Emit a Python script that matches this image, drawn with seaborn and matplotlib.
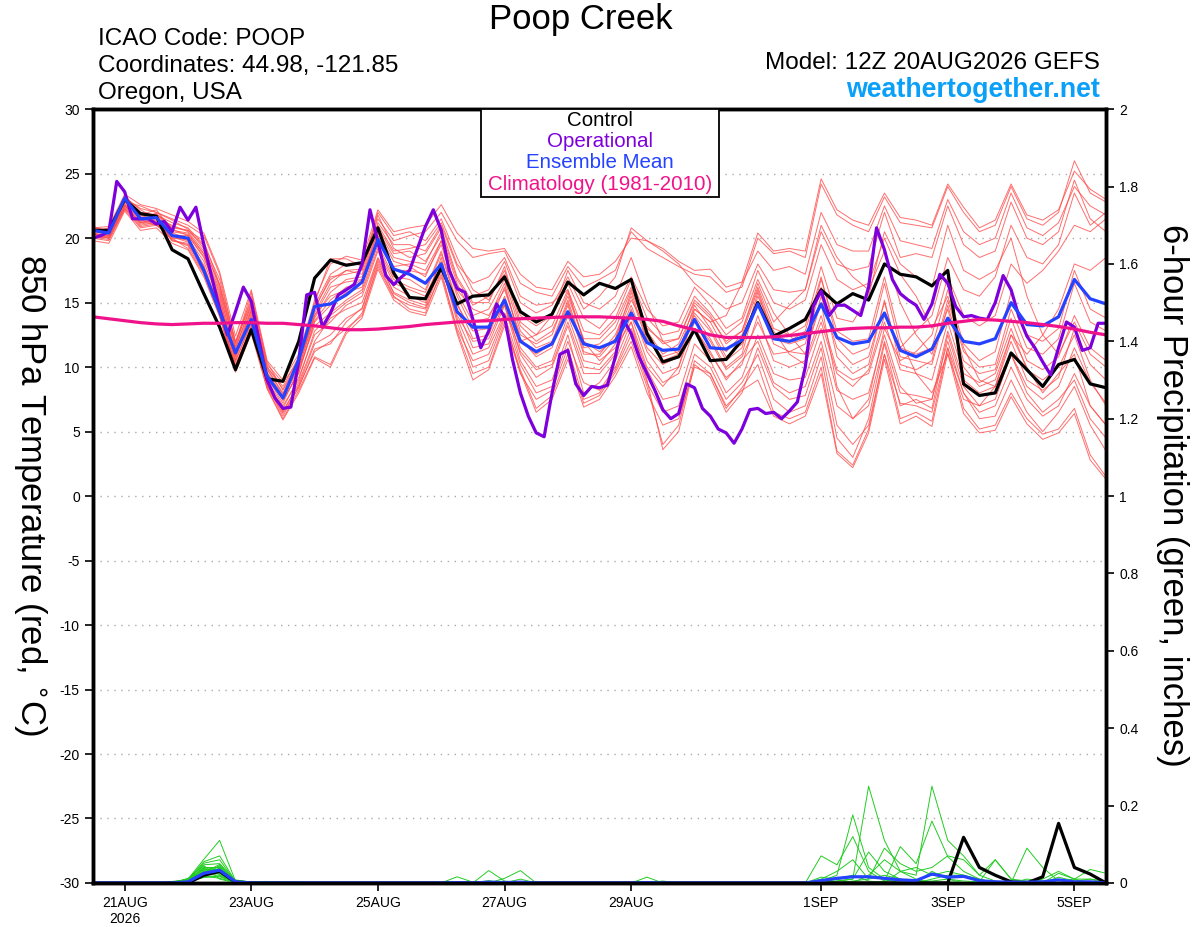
import numpy as np
import pandas as pd
import seaborn as sns
import matplotlib
matplotlib.use("Agg")
import matplotlib.pyplot as plt
from matplotlib.patches import Rectangle

# ---- данные: 6-часовой шаг, 12Z 20AUG2026 .. 12Z 05SEP2026 ----
run_start = "2026-08-20 12:00"

control_t = [20.6, 20.6, 23.0, 21.9, 21.7, 19.1, 18.4, 15.7, 13.1, 9.8,
             12.9, 9.1, 8.9, 12.0, 16.9, 18.3, 17.9, 18.1, 20.8, 17.3,
             15.4, 15.3, 17.7, 14.9, 15.5, 15.6, 17.0, 14.3, 13.5, 14.1,
             16.6, 15.6, 16.5, 16.1, 16.8, 12.6, 10.4, 10.8, 12.9, 10.5,
             10.6, 12.1, 15.0, 12.4, 13.0, 13.7, 16.0, 14.9, 15.7, 15.2,
             18.0, 17.2, 17.0, 16.3, 17.5, 8.7, 7.8, 8.0, 11.1, 9.8,
             8.5, 10.2, 10.6, 8.7, 8.4]

mean_t = [20.6, 20.4, 23.1, 21.5, 21.6, 20.2, 20.0, 17.5, 14.3, 11.1,
          13.7, 9.3, 7.6, 10.6, 14.7, 14.9, 15.6, 16.6, 19.9, 17.6,
          17.2, 16.5, 18.0, 14.3, 13.1, 13.1, 15.2, 12.0, 11.2, 11.8,
          14.3, 11.8, 11.5, 12.0, 14.2, 11.9, 11.3, 11.4, 13.7, 11.5,
          11.4, 12.1, 14.9, 12.2, 12.0, 12.4, 14.9, 12.3, 11.8, 12.0,
          14.2, 11.3, 10.8, 11.4, 13.8, 12.0, 11.8, 12.2, 15.0, 13.3,
          13.2, 13.9, 16.8, 15.3, 14.9]

clim_t = [13.9, 13.75, 13.6, 13.45, 13.35, 13.3, 13.35, 13.4, 13.4, 13.45,
          13.45, 13.4, 13.4, 13.3, 13.2, 13.05, 12.9, 12.9, 12.95, 13.05,
          13.15, 13.3, 13.4, 13.5, 13.55, 13.6, 13.7, 13.75, 13.8, 13.85,
          13.9, 13.9, 13.9, 13.85, 13.8, 13.7, 13.55, 13.2, 12.9, 12.5,
          12.3, 12.3, 12.3, 12.35, 12.45, 12.6, 12.75, 12.9, 13.0, 13.05,
          13.05, 13.1, 13.1, 13.2, 13.4, 13.55, 13.7, 13.65, 13.55, 13.45,
          13.3, 13.15, 12.95, 12.7, 12.5]

# оперативный прогон - 3-часовой шаг
oper_t = [20.0, 20.2, 20.5, 24.4, 23.6, 21.5, 21.5, 21.5, 21.1, 21.3,
          20.5, 22.4, 21.4, 22.4, 19.5, 17.0, 14.5, 12.5, 14.3, 16.2,
          15.1, 12.0, 9.0, 7.6, 6.8, 6.9, 10.5, 15.6, 15.8, 13.1,
          14.2, 15.6, 16.0, 16.4, 18.0, 22.2, 19.7, 17.1, 16.4, 17.0,
          17.5, 19.2, 20.9,
          22.2, 20.6, 17.5, 16.1, 15.8, 13.7, 11.5, 12.8, 14.9, 13.9,
          10.6, 8.0, 6.2, 4.9, 4.6, 8.0, 11.0, 11.3, 8.7, 7.8,
          8.5, 8.4, 8.6, 10.8, 13.7, 12.6, 10.8, 9.5, 8.2, 6.7,
          6.0, 6.4, 8.7, 8.4, 6.8, 6.2, 5.2, 4.9, 4.1, 5.2,
          6.7, 6.8,
          6.4, 6.5, 6.0, 6.6, 7.3, 10.0, 14.7, 15.9, 14.0, 14.8,
          14.8, 14.4, 14.0, 16.2, 20.8, 19.1, 16.8, 15.7, 15.2, 14.8,
          13.7, 14.9, 17.2, 16.5, 14.7, 13.9, 14.0, 13.8, 13.7, 15.0,
          17.1, 16.0, 13.9, 12.4, 11.5, 10.4, 9.4, 11.5, 13.5, 13.1,
          11.3, 11.5, 13.4, 13.4]

# члены ансамбля (красные)
member_t = [
    [20.8, 20.6, 23.3, 22.0, 21.8, 21.2, 20.8, 19.5, 16.8, 12.0, 15.2, 10.0, 8.5, 10.8, 14.8, 17.2, 18.0, 18.0, 21.5, 19.8, 20.2, 20.5,
     22.0, 19.8, 18.5, 18.8, 19.0, 16.5, 15.8, 15.5, 17.8, 16.2, 16.8, 17.5, 20.5, 19.2, 18.5, 17.8, 17.2, 17.0, 15.8, 16.2,
     20.0, 18.8, 19.0, 18.5, 24.2, 21.8, 21.0, 20.5, 23.2, 21.2, 21.0, 20.8, 24.0, 22.0, 20.5, 21.0, 24.0, 21.5, 21.0, 22.0, 26.0, 23.5, 22.8],
    [20.2, 20.0, 22.4, 21.0, 21.2, 19.8, 19.6, 17.8, 14.2, 10.2, 13.0, 8.6, 6.2, 8.5, 11.2, 12.0, 13.0, 14.0, 18.0, 15.5, 14.5, 14.2,
     17.5, 12.8, 9.5, 10.0, 13.5, 9.8, 6.8, 7.8, 11.0, 7.2, 7.8, 9.6, 12.0, 8.5, 4.0, 5.5, 10.5, 9.5, 6.8, 8.4,
     10.2, 6.5, 6.0, 6.5, 10.0, 3.5, 2.4, 5.2, 11.0, 6.0, 6.5, 5.8, 11.5, 6.8, 5.2, 5.5, 8.0, 6.0, 4.8, 5.2, 6.8, 3.2, 1.5],
    [20.5, 20.8, 22.8, 22.5, 22.0, 21.5, 21.0, 20.2, 17.2, 11.8, 15.8, 10.2, 8.8, 10.5, 15.0, 18.4, 18.4, 17.8, 22.0, 20.2, 20.5, 19.8,
     21.5, 18.5, 16.0, 15.2, 17.5, 14.0, 13.2, 14.0, 16.5, 13.8, 13.0, 14.5, 17.0, 14.5, 13.2, 13.5, 16.2, 14.8, 13.0, 13.8,
     17.5, 15.0, 14.5, 15.2, 19.5, 16.8, 16.0, 16.5, 20.0, 17.2, 15.5, 13.0, 15.5, 11.5, 9.0, 8.5, 11.0, 8.0, 6.5, 7.5, 9.0, 6.0, 4.5],
    [20.0, 19.8, 22.2, 20.8, 21.0, 20.0, 19.2, 17.2, 14.0, 9.8, 12.8, 8.4, 6.0, 8.2, 10.8, 10.2, 12.8, 14.2, 17.8, 15.4, 14.8, 14.5,
     17.2, 13.0, 10.5, 11.0, 14.0, 10.2, 8.0, 8.5, 12.0, 8.8, 8.2, 10.0, 13.0, 9.8, 7.5, 7.8, 11.8, 10.5, 8.0, 9.2,
     12.5, 9.5, 9.0, 9.2, 13.0, 8.2, 7.5, 8.0, 12.5, 8.5, 7.2, 7.5, 12.0, 8.0, 6.5, 7.0, 10.0, 7.5, 6.2, 7.0, 9.5, 7.0, 5.5],
    [20.9, 20.5, 23.0, 21.8, 22.2, 20.6, 20.4, 18.8, 15.6, 11.2, 14.6, 9.6, 7.8, 10.0, 13.8, 15.8, 16.8, 17.0, 20.8, 18.8, 19.0, 18.2,
     20.2, 16.5, 14.0, 14.5, 16.8, 12.8, 11.5, 12.0, 15.2, 11.5, 11.8, 13.0, 16.0, 12.8, 11.0, 11.8, 14.5, 13.5, 11.2, 12.5,
     16.0, 12.5, 12.0, 12.8, 17.0, 12.2, 11.0, 11.5, 16.5, 11.5, 11.0, 11.5, 16.0, 11.8, 10.5, 11.2, 15.8, 12.5, 12.0, 13.0, 17.5, 14.5, 13.8],
    [20.4, 20.2, 22.6, 21.2, 21.4, 20.4, 20.0, 18.2, 15.0, 10.8, 14.0, 9.2, 7.2, 9.8, 13.2, 14.2, 15.2, 16.0, 19.5, 17.0, 16.8, 16.0,
     19.0, 15.0, 12.2, 12.5, 15.5, 11.5, 10.0, 10.5, 14.0, 10.5, 10.2, 11.8, 14.8, 11.5, 10.2, 10.8, 14.0, 12.2, 10.0, 11.0,
     15.5, 12.8, 11.0, 10.2, 13.5, 9.5, 8.5, 9.8, 14.0, 11.5, 12.8, 14.0, 18.5, 16.0, 15.5, 17.0, 21.0, 18.5, 18.0, 19.5, 23.5, 21.0, 22.0],
    [20.3, 20.1, 22.5, 21.5, 21.6, 19.8, 19.5, 17.6, 14.8, 10.5, 13.5, 8.8, 6.8, 9.2, 12.5, 13.5, 14.8, 15.5, 19.0, 16.5, 16.0, 15.5,
     18.2, 14.5, 11.5, 11.8, 14.8, 10.5, 8.5, 9.0, 12.5, 8.0, 8.8, 10.5, 13.5, 9.0, 3.6, 5.0, 10.2, 9.2, 6.5, 8.0,
     11.5, 8.5, 7.5, 7.8, 11.5, 5.5, 4.0, 5.5, 11.0, 7.2, 7.0, 6.5, 11.5, 8.0, 6.0, 6.2, 9.0, 6.5, 5.0, 6.5, 8.5, 5.5, 3.5],
    [20.7, 20.7, 23.2, 22.2, 21.5, 21.0, 20.5, 19.0, 16.0, 11.5, 14.8, 9.8, 8.0, 10.2, 14.2, 16.5, 17.5, 17.2, 21.2, 19.5, 19.5, 19.0,
     21.0, 17.8, 15.5, 16.0, 18.2, 15.0, 14.2, 14.8, 17.0, 14.5, 15.5, 17.0, 20.8, 19.8, 19.0, 18.0, 16.5, 15.5, 14.5, 15.0,
     18.0, 16.0, 15.8, 16.0, 20.5, 18.0, 17.5, 17.8, 22.0, 18.5, 18.8, 18.5, 22.5, 19.5, 18.5, 19.0, 22.8, 20.0, 19.5, 20.5, 24.5, 21.5, 20.5],
    [20.1, 19.9, 22.3, 21.3, 21.0, 20.2, 19.8, 17.5, 14.5, 10.0, 13.2, 8.9, 6.5, 8.8, 12.0, 13.8, 14.5, 15.0, 18.5, 16.2, 15.5, 15.0,
     18.5, 14.0, 12.0, 12.2, 15.0, 11.0, 9.2, 10.0, 13.2, 9.5, 9.5, 11.0, 14.0, 10.5, 8.8, 9.5, 13.0, 11.0, 9.2, 10.2,
     14.0, 10.5, 10.0, 10.5, 14.0, 9.8, 9.0, 9.5, 13.5, 9.8, 9.5, 9.0, 13.5, 9.5, 8.8, 9.5, 13.0, 9.8, 9.0, 10.0, 12.5, 9.0, 7.0],
    [20.6, 20.3, 22.9, 21.7, 21.9, 20.8, 20.6, 19.8, 16.4, 11.6, 15.5, 10.4, 8.2, 10.4, 14.5, 17.0, 17.2, 17.5, 21.8, 19.2, 18.5, 18.8,
     20.8, 17.0, 15.0, 15.0, 17.8, 13.5, 12.5, 13.2, 16.0, 12.8, 12.5, 13.8, 16.8, 13.8, 12.5, 12.8, 15.5, 14.2, 12.5, 13.5,
     16.8, 14.2, 12.5, 11.0, 15.0, 8.5, 6.0, 7.5, 13.0, 10.5, 11.2, 12.5, 17.0, 14.0, 13.2, 14.0, 18.0, 16.5, 17.5, 19.0, 21.0, 20.5, 21.5],
    [20.5, 20.5, 22.7, 21.4, 21.2, 20.2, 20.2, 18.5, 15.4, 10.6, 14.2, 9.4, 7.5, 9.5, 13.5, 14.8, 15.8, 16.2, 20.2, 17.5, 17.5, 17.2,
     19.5, 15.5, 13.0, 13.2, 16.2, 12.2, 10.8, 11.5, 14.8, 11.0, 11.0, 12.5, 15.5, 12.0, 10.8, 11.2, 14.8, 13.0, 10.8, 11.8,
     15.0, 11.8, 11.2, 11.8, 16.2, 10.8, 9.5, 10.2, 15.2, 10.2, 9.8, 10.5, 15.2, 11.2, 10.0, 10.2, 14.5, 11.5, 11.0, 12.2, 16.5, 13.5, 12.8],
    [20.8, 20.9, 23.4, 22.6, 22.3, 21.8, 21.3, 20.4, 17.4, 12.4, 16.0, 10.5, 9.0, 11.0, 15.2, 18.0, 18.6, 18.3, 22.2, 20.5, 20.8, 21.0,
     22.6, 20.4, 19.2, 19.0, 19.2, 17.2, 16.2, 16.0, 18.2, 17.0, 17.2, 18.2, 20.0, 19.8, 19.2, 18.2, 17.5, 17.6, 16.2, 16.6,
     20.4, 19.0, 19.2, 19.0, 24.6, 22.2, 21.4, 21.0, 23.5, 21.6, 21.4, 21.0, 24.2, 22.4, 20.8, 21.4, 24.2, 21.8, 21.4, 22.2, 25.2, 23.8, 23.0],
    [19.8, 19.6, 22.1, 20.6, 20.8, 19.6, 19.1, 17.0, 13.9, 9.6, 12.6, 8.3, 5.9, 8.0, 10.7, 10.0, 12.6, 13.8, 17.6, 15.2, 14.3, 14.0,
     17.0, 12.6, 9.0, 9.8, 13.2, 9.6, 6.5, 7.5, 10.6, 6.9, 7.5, 9.3, 11.6, 8.0, 5.5, 6.0, 10.0, 9.5, 7.0, 8.2,
     9.0, 6.2, 5.6, 6.2, 9.5, 3.3, 2.2, 4.9, 10.6, 5.6, 6.2, 5.4, 11.1, 6.4, 4.9, 5.1, 7.7, 5.6, 4.4, 4.9, 6.4, 2.8, 1.3],
    [20.2, 20.4, 22.9, 21.9, 21.7, 20.5, 20.3, 18.8, 15.8, 11.0, 14.4, 9.5, 7.4, 9.6, 13.6, 15.2, 16.2, 16.5, 20.0, 17.8, 18.0, 17.5,
     19.8, 16.0, 14.5, 14.0, 16.0, 12.5, 11.8, 12.5, 15.8, 12.0, 11.2, 12.2, 15.2, 13.0, 12.0, 12.2, 15.0, 13.8, 12.0, 12.8,
     16.5, 13.5, 14.8, 16.0, 21.0, 18.5, 17.0, 16.0, 19.0, 15.0, 12.5, 11.0, 14.5, 10.0, 8.5, 9.0, 12.5, 10.0, 8.0, 9.5, 11.0, 7.0, 5.5],
    [20.4, 20.0, 22.6, 21.1, 21.3, 20.0, 19.9, 17.9, 14.6, 10.4, 13.4, 9.0, 7.0, 9.0, 12.8, 14.0, 15.0, 15.8, 19.2, 16.8, 16.2, 15.8,
     18.8, 14.8, 12.8, 13.0, 14.8, 11.2, 9.8, 10.2, 13.5, 10.0, 9.8, 11.2, 14.5, 11.2, 9.5, 10.0, 13.5, 12.0, 9.8, 10.8,
     13.5, 11.0, 11.2, 11.0, 15.5, 11.5, 10.2, 10.8, 15.0, 10.8, 10.5, 10.2, 14.8, 10.5, 9.5, 9.8, 13.8, 10.5, 9.8, 10.8, 14.0, 11.5, 10.5],
    [20.6, 20.6, 23.1, 22.3, 22.0, 21.4, 20.7, 19.2, 16.4, 11.9, 15.0, 10.0, 8.3, 10.6, 14.6, 16.8, 17.5, 17.6, 21.0, 19.0, 19.2, 19.5,
     21.2, 18.0, 16.5, 17.0, 18.5, 15.5, 14.8, 15.0, 16.0, 12.0, 10.5, 11.5, 13.5, 10.0, 8.5, 10.0, 14.5, 13.5, 14.0, 16.5,
     19.0, 17.5, 17.8, 17.2, 22.0, 19.5, 19.0, 19.0, 22.5, 19.8, 19.5, 19.2, 23.0, 20.5, 19.5, 20.0, 23.5, 20.8, 20.2, 21.2, 24.0, 22.5, 21.8],
    [20.3, 20.2, 22.5, 21.2, 21.5, 20.1, 19.7, 17.4, 14.2, 10.1, 13.1, 8.7, 6.6, 8.6, 11.8, 12.5, 13.8, 14.5, 18.2, 15.8, 15.2, 14.8,
     18.0, 13.5, 10.0, 10.5, 13.8, 9.5, 7.5, 8.2, 11.5, 7.5, 8.0, 9.8, 12.5, 8.8, 6.5, 7.0, 11.0, 10.0, 7.5, 8.8,
     11.0, 7.5, 6.5, 7.0, 10.8, 4.5, 3.0, 6.0, 11.8, 7.0, 7.5, 6.8, 12.5, 8.5, 7.0, 7.5, 11.0, 8.5, 7.5, 8.5, 11.5, 8.8, 7.2],
    [20.7, 20.5, 23.0, 21.6, 21.9, 20.9, 20.6, 19.4, 16.2, 11.4, 14.9, 9.9, 7.9, 10.3, 14.0, 16.2, 16.6, 16.8, 20.6, 18.5, 18.2, 18.0,
     20.5, 16.8, 14.8, 15.5, 17.2, 13.2, 12.0, 12.8, 15.5, 12.2, 12.2, 13.5, 16.2, 13.2, 11.8, 12.2, 15.2, 14.0, 11.8, 12.8,
     16.2, 13.0, 12.5, 13.2, 17.8, 13.8, 13.5, 15.5, 20.5, 18.0, 17.0, 16.2, 21.0, 17.5, 16.8, 17.5, 20.0, 15.5, 12.5, 11.0, 13.5, 11.0, 10.0],
    [20.0, 20.1, 22.3, 20.9, 21.1, 19.9, 19.4, 17.3, 14.1, 9.9, 12.9, 8.5, 6.4, 8.4, 11.4, 11.8, 13.5, 14.6, 18.4, 15.7, 15.0, 14.6,
     17.8, 13.8, 11.0, 11.5, 14.2, 12.0, 12.5, 14.0, 17.5, 15.0, 14.5, 15.5, 18.5, 15.0, 12.0, 11.0, 13.0, 11.2, 9.0, 10.5,
     12.0, 8.8, 8.0, 8.5, 12.0, 7.0, 6.0, 7.0, 12.0, 8.0, 7.8, 7.5, 12.8, 9.0, 8.0, 8.5, 12.0, 9.0, 8.2, 9.2, 13.0, 10.2, 9.0],
    [20.5, 20.3, 22.8, 21.8, 21.8, 20.7, 20.2, 18.6, 15.2, 10.9, 14.4, 9.5, 7.6, 9.9, 14.0, 15.5, 16.0, 16.8, 20.4, 18.2, 17.8, 17.0,
     19.8, 15.8, 13.5, 13.8, 16.5, 12.0, 11.0, 11.8, 15.0, 11.2, 10.8, 12.2, 15.8, 12.2, 10.5, 11.0, 14.2, 12.8, 10.5, 11.5,
     15.8, 12.2, 11.8, 12.2, 16.8, 12.8, 12.0, 12.2, 17.0, 12.2, 9.5, 8.0, 11.0, 7.5, 7.0, 8.5, 12.5, 11.0, 12.5, 14.5, 18.0, 17.5, 18.5],
]

# осадки за 6 часов (дюймы)
control_p = [0, 0, 0, 0, 0, 0, 0, 0.02, 0.03, 0.002,
             0, 0, 0, 0, 0, 0, 0, 0, 0, 0,
             0, 0, 0, 0, 0, 0, 0, 0, 0, 0,
             0, 0, 0, 0, 0, 0, 0, 0, 0, 0,
             0, 0, 0, 0, 0, 0, 0, 0, 0, 0,
             0, 0, 0, 0, 0, 0.118, 0.04, 0.02, 0.003, 0,
             0.016, 0.154, 0.04, 0.023, 0]

mean_p = [0, 0, 0, 0, 0, 0, 0.003, 0.025, 0.033, 0.003,
          0, 0, 0, 0, 0, 0, 0, 0, 0, 0,
          0, 0, 0, 0.001, 0, 0.002, 0.001, 0.002, 0, 0,
          0, 0, 0, 0, 0, 0.001, 0, 0, 0, 0,
          0, 0, 0, 0, 0, 0, 0.006, 0.012, 0.016, 0.016,
          0.012, 0.008, 0.006, 0.023, 0.015, 0.017, 0.006, 0.003, 0.002, 0.002,
          0.003, 0.008, 0.003, 0.003, 0]

# осадки членов ансамбля по окнам: 5..13, 22..36, 44..64
member_p_early = [
    [0.0, 0.01, 0.061, 0.11, 0.005, 0.0, 0.003, 0.001, 0.0],
    [0.004, 0.008, 0.055, 0.07, 0.004, 0.002, 0.0, 0.0, 0.0],
    [0.0, 0.006, 0.051, 0.06, 0.003, 0.0, 0.0, 0.0, 0.0],
    [0.002, 0.01, 0.047, 0.05, 0.006, 0.003, 0.004, 0.002, 0.0],
    [0.0, 0.004, 0.04, 0.04, 0.002, 0.0, 0.0, 0.0, 0.0],
    [0.0, 0.012, 0.034, 0.032, 0.008, 0.002, 0.0, 0.0, 0.0],
    [0.003, 0.008, 0.025, 0.025, 0.004, 0.0, 0.0, 0.003, 0.002],
    [0.0, 0.005, 0.016, 0.016, 0.002, 0.004, 0.0, 0.0, 0.0],
    [0.0, 0.01, 0.045, 0.01, 0.0, 0.0, 0.0, 0.0, 0.0],
    [0.0, 0.006, 0.03, 0.035, 0.005, 0.002, 0.0, 0.0, 0.0],
    [0.002, 0.004, 0.02, 0.045, 0.003, 0.0, 0.0, 0.0, 0.0],
    [0.0, 0.008, 0.038, 0.028, 0.006, 0.003, 0.0, 0.0, 0.0],
    [0.0, 0.003, 0.028, 0.038, 0.002, 0.0, 0.0, 0.0, 0.0],
    [0.0, 0.007, 0.022, 0.02, 0.004, 0.002, 0.0, 0.0, 0.0],
    [0.001, 0.005, 0.032, 0.042, 0.003, 0.0, 0.0, 0.0, 0.0],
    [0.0, 0.009, 0.018, 0.012, 0.002, 0.0, 0.0, 0.0, 0.0],
    [0.0, 0.004, 0.042, 0.03, 0.005, 0.002, 0.0, 0.0, 0.0],
    [0.0, 0.006, 0.036, 0.022, 0.003, 0.0, 0.0, 0.0, 0.0],
    [0.0, 0.003, 0.014, 0.018, 0.002, 0.0, 0.0, 0.0, 0.0],
    [0.0, 0.007, 0.026, 0.048, 0.004, 0.001, 0.0, 0.0, 0.0],
]
member_p_mid = {  # номер члена -> 15 значений
    1: [0, 0, 0, 0, 0, 0, 0, 0, 0, 0, 0, 0, 0, 0.004, 0],
    2: [0, 0.016, 0.002, 0, 0, 0, 0, 0, 0, 0, 0, 0, 0, 0, 0],
    4: [0, 0, 0, 0.032, 0.005, 0, 0, 0, 0, 0, 0, 0, 0, 0, 0],
    8: [0, 0, 0, 0, 0.012, 0.032, 0, 0, 0, 0, 0, 0, 0, 0, 0],
    10: [0, 0, 0, 0, 0, 0, 0, 0, 0, 0, 0, 0, 0, 0.015, 0],
    12: [0, 0, 0, 0.006, 0, 0.01, 0, 0, 0, 0, 0, 0, 0, 0, 0.005],
}
member_p_late = {  # номер члена -> 21 значение
    0: [0, 0, 0.005, 0.02, 0.176, 0.04, 0.01, 0, 0, 0, 0.003, 0, 0, 0, 0, 0, 0, 0, 0, 0, 0],
    1: [0, 0, 0, 0.005, 0.01, 0.25, 0.11, 0.03, 0.01, 0, 0, 0, 0, 0, 0, 0, 0, 0, 0, 0, 0],
    2: [0, 0, 0.07, 0.047, 0.12, 0.03, 0.005, 0.094, 0.05, 0.16, 0.068, 0.03, 0.01, 0, 0, 0, 0, 0, 0, 0, 0],
    3: [0, 0, 0, 0, 0, 0.02, 0.06, 0.03, 0.02, 0.25, 0.11, 0.07, 0.02, 0.06, 0.01, 0, 0, 0, 0, 0, 0],
    4: [0, 0, 0.01, 0.03, 0.06, 0.01, 0.09, 0.05, 0.03, 0.04, 0.07, 0.06, 0.02, 0.005, 0, 0.09, 0.04, 0.005, 0.01, 0.035, 0.025],
    5: [0, 0, 0, 0.01, 0.02, 0.005, 0, 0.03, 0.04, 0.02, 0.03, 0.02, 0.01, 0, 0.005, 0, 0.01, 0.03, 0.01, 0, 0],
    6: [0, 0, 0, 0, 0.005, 0.01, 0.02, 0.01, 0, 0.01, 0.02, 0.02, 0.005, 0, 0, 0, 0, 0.015, 0.005, 0.01, 0.005],
    7: [0, 0, 0, 0, 0, 0, 0.005, 0.01, 0.005, 0.005, 0.01, 0.005, 0.003, 0.06, 0.01, 0.005, 0, 0, 0, 0, 0],
    8: [0, 0, 0, 0.005, 0.01, 0.08, 0.03, 0.01, 0, 0, 0, 0, 0, 0, 0, 0, 0, 0.025, 0.01, 0.01, 0],
    9: [0, 0, 0, 0, 0, 0, 0, 0, 0, 0.03, 0.01, 0, 0, 0, 0, 0, 0, 0, 0, 0, 0],
    10: [0, 0, 0.015, 0.01, 0, 0, 0, 0, 0, 0, 0, 0, 0, 0, 0, 0.01, 0.005, 0, 0, 0, 0],
}

tick_dates = ["2026-08-21", "2026-08-23", "2026-08-25", "2026-08-27",
              "2026-08-29", "2026-09-01", "2026-09-03", "2026-09-05"]
tick_labels = ["21AUG\n2026", "23AUG", "25AUG", "27AUG",
               "29AUG", "1SEP", "3SEP", "5SEP"]

# ---- подготовка таблиц ----
times = pd.date_range(run_start, periods=len(control_t), freq="6h")
op_times = pd.date_range(run_start, periods=len(oper_t), freq="3h")
n_mem = len(member_t)

df_t = pd.DataFrame({
    "time": np.tile(times.values, n_mem),
    "temp": np.concatenate(member_t),
    "member": np.repeat(np.arange(n_mem), len(times)),
})

pcp = np.zeros((n_mem, len(times)))
pcp[:, 5:14] = member_p_early
for k, v in member_p_mid.items():
    pcp[k, 22:37] = v
for k, v in member_p_late.items():
    pcp[k, 44:65] = v
df_p = pd.DataFrame({
    "time": np.tile(times.values, n_mem),
    "pcp": pcp.ravel(),
    "member": np.repeat(np.arange(n_mem), len(times)),
})

# ---- рисунок ----
sns.set_style("ticks")
plt.rcParams["font.family"] = ["Liberation Sans", "DejaVu Sans"]
plt.rcParams["text.color"] = "black"
plt.rcParams["axes.unicode_minus"] = False

fig = plt.figure(figsize=(12, 9.27), dpi=100)
ax = fig.add_axes([0.0775, 0.0475, 0.8442, 0.8347])
ax2 = ax.twinx()

ax.yaxis.grid(True, linestyle=(0, (1, 4)), color="#aaaaaa", lw=1)
ax.xaxis.grid(False)

sns.lineplot(data=df_t, x="time", y="temp", units="member", estimator=None,
             color="#ff4a4a", lw=0.7, alpha=0.8, ax=ax, legend=False)
sns.lineplot(x=times, y=control_t, color="black", lw=2.3, ax=ax)
sns.lineplot(x=op_times, y=oper_t, color="#7d00dc", lw=2.3, ax=ax)
sns.lineplot(x=times, y=mean_t, color="#2442ff", lw=2.3, ax=ax)
sns.lineplot(x=times, y=clim_t, color="#f0128a", lw=2.3, ax=ax)

sns.lineplot(data=df_p, x="time", y="pcp", units="member", estimator=None,
             color="#22cc22", lw=0.7, ax=ax2, legend=False)
sns.lineplot(x=times, y=control_p, color="black", lw=2.3, ax=ax2)
sns.lineplot(x=times, y=mean_p, color="#2442ff", lw=2.3, ax=ax2)

ax.set_xlim(times[0], times[-1])
ax.set_ylim(-30, 30)
ax2.set_ylim(0, 2)
ax.set_yticks(range(-30, 31, 5))
p_ticks = np.round(np.arange(0, 2.01, 0.2), 1)
ax2.set_yticks(p_ticks)
ax2.set_yticklabels([f"{v:g}" for v in p_ticks])
ax.set_xticks(pd.to_datetime(tick_dates))
ax.set_xticklabels(tick_labels)
ax.set_xlabel("")
ax.set_ylabel("")
ax2.set_ylabel("")

for a in (ax, ax2):
    a.tick_params(direction="out", length=6, width=1.2, labelsize=10,
                  colors="black")
    for s in a.spines.values():
        s.set_linewidth(2.5)
        s.set_color("black")

# легенда в рамке
ax2.add_patch(Rectangle((0.383, 0.887), 0.235, 0.113, transform=ax2.transAxes,
                        facecolor="white", edgecolor="black", lw=1.3, zorder=10))
leg_items = [("Control", "black", 0.985), ("Operational", "#7d00dc", 0.958),
             ("Ensemble Mean", "#2442ff", 0.931),
             ("Climatology (1981-2010)", "#f0128a", 0.9025)]
for txt, col, yy in leg_items:
    ax2.text(0.5005, yy, txt, color=col, fontsize=14.8, ha="center", va="center",
             transform=ax2.transAxes, zorder=11)

# подписи
fig.text(0.484, 0.979, "Poop Creek", fontsize=25, ha="center", va="center")
fig.text(0.0817, 0.958, "ICAO Code: POOP", fontsize=17.5, va="center")
fig.text(0.0817, 0.9288, "Coordinates: 44.98, -121.85", fontsize=17.5, va="center")
fig.text(0.0817, 0.8997, "Oregon, USA", fontsize=17.5, va="center")
fig.text(0.9167, 0.932, "Model: 12Z 20AUG2026 GEFS", fontsize=17.5,
         ha="right", va="center")
fig.text(0.9167, 0.903, "weathertogether.net", fontsize=19.3, fontweight="bold",
         color="#0aa0f8", ha="right", va="center")
fig.text(0.025, 0.466, "850 hPa Temperature (red, $^{\\circ}$C)", fontsize=25,
         rotation=270, ha="center", va="center")
fig.text(0.977, 0.466, "6-hour Precipitation (green, inches)", fontsize=25,
         rotation=270, ha="center", va="center")

fig.savefig("out.png", dpi=100)
